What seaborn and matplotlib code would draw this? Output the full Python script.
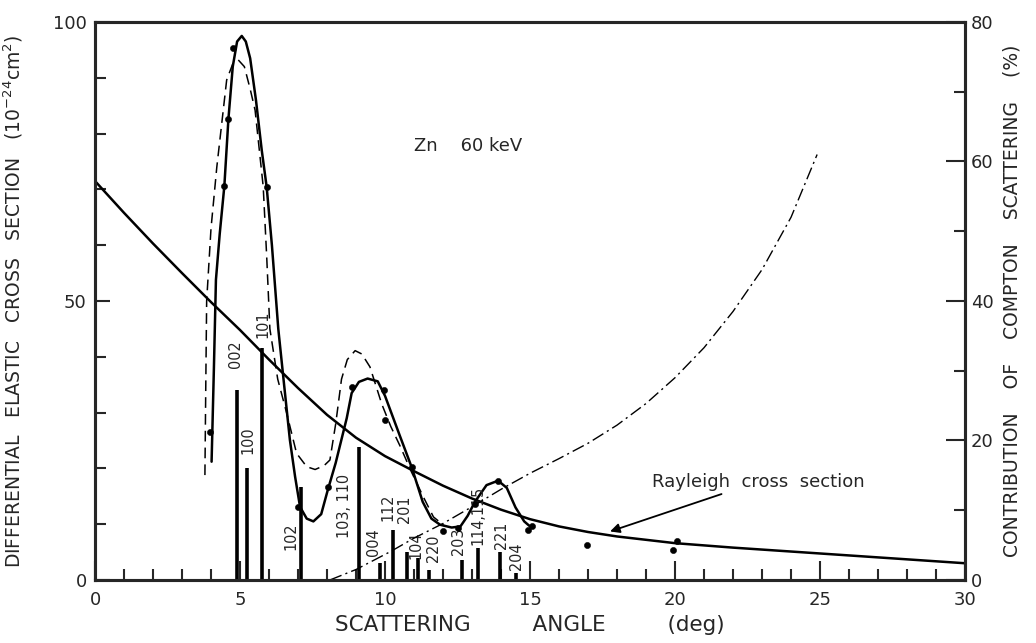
import numpy as np
import matplotlib
matplotlib.use("Agg")
import matplotlib.pyplot as plt
from matplotlib.ticker import MultipleLocator
import seaborn as sns

# measured elastic cross section (solid curve through the points)
exp_x = [4.02, 4.10, 4.17, 4.30, 4.46, 4.60, 4.75, 4.90, 5.06, 5.20, 5.35, 5.55,
         5.75, 5.92, 6.10, 6.32, 6.50, 6.72, 6.90, 7.07, 7.30, 7.53, 7.80, 8.02,
         8.30, 8.68, 8.85, 9.10, 9.40, 9.75, 10.00, 10.50, 10.92, 11.30, 11.60,
         11.90, 12.30, 12.60, 12.85, 13.10, 13.50, 13.90, 14.20, 14.50, 14.80, 15.00]
exp_y = [21.2, 38.0, 53.8, 62.0, 70.6, 82.6, 92.0, 96.5, 97.5, 96.5, 93.5, 86.0,
         77.0, 70.4, 60.0, 45.0, 36.0, 25.1, 18.5, 13.1, 11.0, 10.5, 11.8, 16.0,
         21.0, 29.0, 33.5, 35.5, 36.1, 35.6, 33.0, 26.0, 20.2, 14.0, 11.0,
         9.9, 9.4, 9.6, 11.5, 14.0, 17.0, 17.8, 16.5, 13.0, 10.5, 9.6]

# calculated curve (dashed)
calc_x = [3.79, 3.82, 3.85, 4.00, 4.20, 4.54, 4.75, 4.94, 5.15, 5.35, 5.52, 5.80,
          5.92, 6.03, 6.30, 6.61, 6.95, 7.30, 7.59, 7.90, 8.10, 8.30, 8.50, 8.70,
          8.97, 9.20, 9.48, 9.89, 10.20, 10.52, 10.90, 11.32, 11.67, 12.07]
calc_y = [18.8, 35.0, 50.0, 63.0, 74.0, 89.6, 92.5, 93.2, 92.0, 88.0, 84.2, 70.5,
          58.0, 45.0, 36.0, 29.9, 22.7, 20.3, 19.8, 20.5, 21.5, 28.0, 36.0, 39.5,
          41.1, 40.5, 38.2, 31.5, 27.5, 24.0, 19.5, 14.9, 11.3, 9.6]

# data points
pts_x = [3.97, 4.46, 4.60, 4.75, 5.92, 7.01, 8.02, 8.85, 9.97, 10.00, 10.92,
         12.00, 12.53, 13.10, 13.90, 14.94, 15.06, 16.95, 20.06, 19.92]
pts_y = [26.6, 70.6, 82.6, 95.3, 70.4, 13.0, 16.7, 34.5, 34.1, 28.7, 20.2,
         8.7, 9.3, 13.7, 17.8, 9.0, 9.6, 6.2, 6.9, 5.3]

# Rayleigh cross section
ray_x = [0, 1, 2, 3, 4, 5, 6, 7, 8, 9, 10, 11, 12, 13, 14, 15, 16, 17, 18, 19,
         20, 22, 24, 26, 28, 30]
ray_y = [71.5, 65.8, 60.3, 55.0, 49.8, 44.8, 39.5, 34.4, 29.6, 25.5, 22.2, 19.5,
         16.9, 14.6, 12.6, 10.9, 9.6, 8.6, 7.8, 7.2, 6.6, 5.8, 5.1, 4.4, 3.7, 3.0]

# Compton contribution (%), right axis
comp_x = [8.1, 9.0, 10.2, 11.0, 12.0, 13.0, 14.0, 15.0, 16.0, 17.0, 18.0, 19.0,
          20.0, 21.0, 22.0, 23.0, 24.0, 24.9]
comp_y = [0.0, 1.5, 4.1, 6.0, 8.1, 10.5, 13.0, 15.3, 17.4, 19.6, 22.2, 25.3,
          29.0, 33.3, 38.5, 44.5, 52.0, 61.0]

# Bragg reflections
hkl_x = [4.91, 5.25, 5.77, 7.10, 9.10, 9.81, 10.28, 10.75, 11.15, 11.53, 12.64,
         13.22, 13.97, 14.50]
hkl_h = [34.1, 20.0, 41.5, 16.7, 23.9, 3.0, 8.9, 5.0, 3.9, 1.8, 3.6, 5.7, 5.1, 1.3]
hkl_lab = ["002", "100", "101", "102", "103, 110", "004", "112", "201", "104",
           "220", "203", "114,115", "221", "204"]
lab_x = [4.83, 5.29, 5.80, 6.76, 8.62, 9.62, 10.10, 10.66, 11.05, 11.67, 12.53,
         13.22, 14.02, 14.54]
lab_y = [40.5, 25.0, 45.8, 7.8, 13.2, 6.7, 13.0, 12.6, 6.3, 5.6, 7.0, 11.5, 8.0, 4.3]

sns.set_style("ticks")
plt.rcParams['font.family'] = ['DejaVu Sans']
plt.rcParams['font.size'] = 13

fig = plt.figure(figsize=(10.36, 6.43), dpi=100)
ax = fig.add_axes([0.0917, 0.098, 0.8398, 0.8678])
ax2 = ax.twinx()

lw = 1.8
sns.lineplot(x=exp_x, y=exp_y, ax=ax, color="black", linewidth=lw, sort=False)
sns.lineplot(x=calc_x, y=calc_y, ax=ax, color="black", linewidth=1.1,
             sort=False, linestyle=(0, (7, 4)))
sns.lineplot(x=ray_x, y=ray_y, ax=ax, color="black", linewidth=lw, sort=False)
sns.scatterplot(x=pts_x, y=pts_y, ax=ax, color="black", s=20, edgecolor="black",
                zorder=5)
ax.vlines(hkl_x, 0, hkl_h, color="black", linewidth=2.6)
for x, y, t in zip(lab_x, lab_y, hkl_lab):
    ax.text(x, y, t, rotation=90, ha="center", va="center", fontsize=11.5,
            fontstretch="condensed")

sns.lineplot(x=comp_x, y=comp_y, ax=ax2, color="black", linewidth=1.0,
             sort=False, linestyle=(0, (9, 3, 1.5, 3)))

ax.text(11.0, 77.8, "Zn    60 keV", ha="left", va="center", fontsize=13)
ax.annotate("Rayleigh  cross  section", xy=(17.76, 8.7), xytext=(19.2, 17.6),
            ha="left", va="center", fontsize=13,
            arrowprops=dict(arrowstyle="-|>", color="black", lw=1.3,
                            shrinkA=0, shrinkB=0, mutation_scale=14))

ax.set_xlim(0, 30)
ax.set_ylim(0, 100)
ax2.set_ylim(0, 80)
ax.set_xticks([0, 5, 10, 15, 20, 25, 30])
ax.xaxis.set_minor_locator(MultipleLocator(1))
ax.set_yticks([0, 50, 100])
ax.yaxis.set_minor_locator(MultipleLocator(10))
ax2.set_yticks([0, 20, 40, 60, 80])
ax2.yaxis.set_minor_locator(MultipleLocator(10))

ax.tick_params(axis="x", which="major", direction="in", length=14, width=1.5,
               pad=8, top=False)
ax.tick_params(axis="x", which="minor", direction="in", length=8, width=1.5,
               top=False)
ax.tick_params(axis="y", which="major", direction="in", length=11, width=1.5,
               pad=6, right=False)
ax.tick_params(axis="y", which="minor", direction="in", length=8, width=1.5,
               right=False)
ax2.tick_params(axis="y", which="major", direction="in", length=14, width=1.5,
                pad=4)
ax2.tick_params(axis="y", which="minor", direction="in", length=8, width=1.5)

for a in (ax, ax2):
    for s in a.spines.values():
        s.set_linewidth(2.2)
        s.set_visible(True)

ax.set_xlabel("SCATTERING         ANGLE         (deg)", fontsize=15.5)
ax.xaxis.set_label_coords(0.5, -0.062)
ax.set_ylabel("DIFFERENTIAL   ELASTIC   CROSS   SECTION   "
              "(10$^{-24}$cm$^{2}$)", fontsize=13.5)
ax.yaxis.set_label_coords(-0.08, 0.5)
ax2.set_ylabel("CONTRIBUTION    OF    COMPTON    SCATTERING    (%)",
               fontsize=13.5, rotation=90)
ax2.yaxis.set_label_coords(1.043, 0.5)

fig.savefig("out.png", dpi=100)
